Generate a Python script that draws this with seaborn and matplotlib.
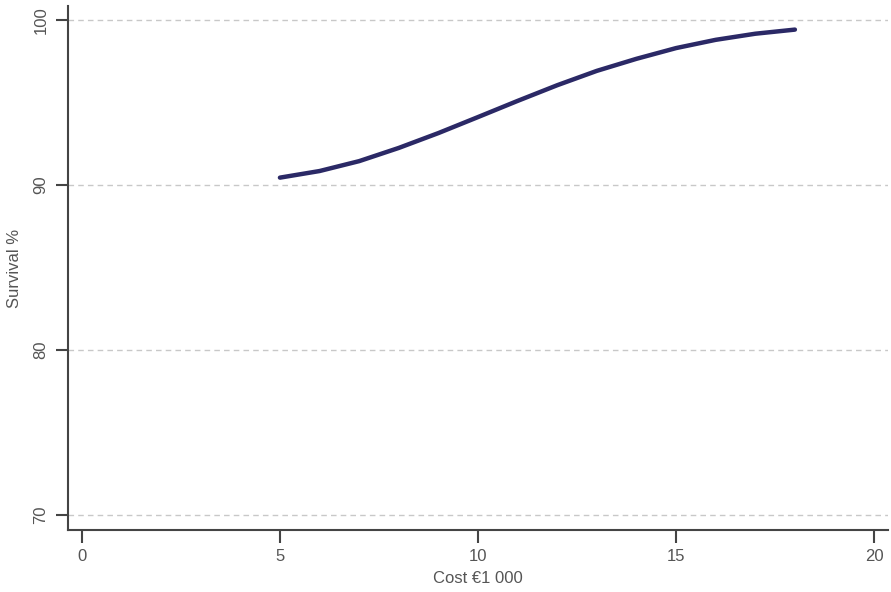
"""
Survival % against cost, single smooth line.
"""

import matplotlib
matplotlib.use("Agg")
import matplotlib.pyplot as plt
import pandas as pd
import seaborn as sns

# data
cost = [5, 6, 7, 8, 9, 10, 11, 12, 13, 14, 15, 16, 17, 18]
survival = [90.45, 90.85, 91.45, 92.25, 93.15, 94.12, 95.1, 96.05, 96.92, 97.65,
            98.3, 98.8, 99.17, 99.42]
x_ticks = [0, 5, 10, 15, 20]
y_ticks = [70, 80, 90, 100]

df = pd.DataFrame({"cost": cost, "survival": survival})

sns.set_style("ticks")
plt.rcParams['font.family'] = ['Liberation Sans', 'DejaVu Sans']
text_col = "#555555"

fig = plt.figure(figsize=(8.91, 5.92), dpi=100)
ax = fig.add_axes([68 / 891, 62 / 592, 820 / 891, 524 / 592])

sns.lineplot(data=df, x="cost", y="survival", ax=ax, color="#2b2966",
             linewidth=3.2, solid_capstyle="round")

ax.set_xlim(-0.35, 20.35)
ax.set_ylim(69.1, 100.85)
ax.set_xticks(x_ticks)
ax.set_yticks(y_ticks)

for y in y_ticks:
    ax.axhline(y, color="#c8c8c8", linestyle=(0, (4, 3)), linewidth=1, zorder=0)

ax.set_xlabel("Cost €1 000", fontsize=12, color=text_col, labelpad=5)
ax.set_ylabel("Survival %", fontsize=12, color=text_col, labelpad=8)
ax.tick_params(axis="both", direction="out", length=9, width=1.5,
               color="#444444", labelsize=12, labelcolor=text_col)
ax.tick_params(axis="y", pad=5)
ax.tick_params(axis="x", pad=5)
plt.setp(ax.get_yticklabels(), rotation=90, va="center")

sns.despine(ax=ax)
for side in ["left", "bottom"]:
    ax.spines[side].set_color("#444444")
    ax.spines[side].set_linewidth(1.5)

plt.savefig("out.png", dpi=100)
